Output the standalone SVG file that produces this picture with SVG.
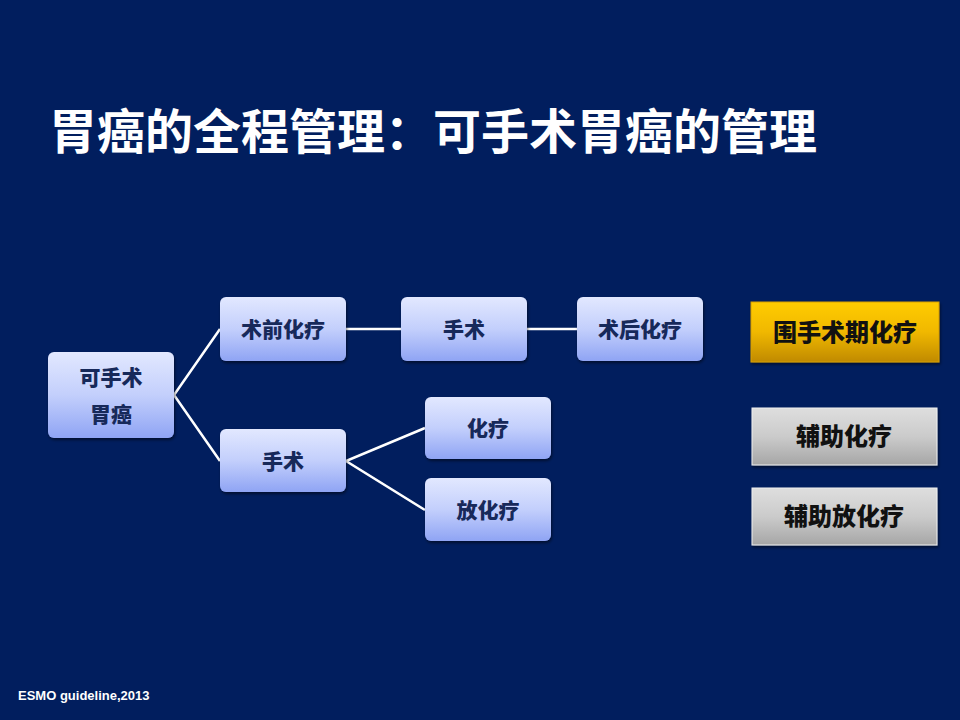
<svg xmlns="http://www.w3.org/2000/svg" width="960" height="720" viewBox="0 0 960 720">
<defs>
<linearGradient id="gBlue" x1="0" y1="0" x2="0" y2="1">
<stop offset="0" stop-color="#e2e8ff"/>
<stop offset="0.5" stop-color="#c3cffc"/>
<stop offset="1" stop-color="#8fa4f4"/>
</linearGradient>
<linearGradient id="gGold" x1="0" y1="0" x2="0" y2="1">
<stop offset="0" stop-color="#ffcc00"/>
<stop offset="0.5" stop-color="#f0b800"/>
<stop offset="1" stop-color="#c08a00"/>
</linearGradient>
<linearGradient id="gGray" x1="0" y1="0" x2="0" y2="1">
<stop offset="0" stop-color="#dedede"/>
<stop offset="0.5" stop-color="#cbcbcb"/>
<stop offset="1" stop-color="#a6a6a6"/>
</linearGradient>
<filter id="sh" x="-10%" y="-10%" width="130%" height="140%">
<feDropShadow dx="1" dy="2" stdDeviation="1.5" flood-color="#000" flood-opacity="0.5"/>
</filter>
</defs>
<style>
.bx{fill:url(#gBlue);filter:url(#sh)}
.bt{font-family:"Noto Sans CJK SC","Noto Sans",sans-serif;font-weight:900;font-size:21px;fill:#17295a;text-anchor:middle}
.rt{font-family:"Noto Sans CJK SC","Noto Sans",sans-serif;font-weight:900;font-size:24px;fill:#111;text-anchor:middle}
.ln{stroke:#fff;stroke-width:2.5;fill:none}
</style>
<rect x="0" y="0" width="960" height="720" fill="#011e5e"/>
<text x="49" y="149" font-family="Noto Sans CJK SC, sans-serif" font-weight="bold" font-size="48" fill="#fff">胃癌的全程管理：可手术胃癌的管理</text>
<g id="connectors">
<polyline class="ln" points="220,329 174,395 220,461"/>
<line class="ln" x1="346" y1="329" x2="401" y2="329"/>
<line class="ln" x1="527" y1="329" x2="577" y2="329"/>
<polyline class="ln" points="425,428 346,461 425,510"/>
</g>
<g id="n-kss">
<rect class="bx" x="48" y="352" width="126" height="86" rx="6"/>
<text class="bt" x="111" y="385">可手术</text>
<text class="bt" x="111" y="422">胃癌</text>
</g>
<g id="n-sqhl">
<rect class="bx" x="220" y="297" width="126" height="64" rx="6"/>
<text class="bt" x="283" y="337">术前化疗</text>
</g>
<g id="n-ss1">
<rect class="bx" x="401" y="297" width="126" height="64" rx="6"/>
<text class="bt" x="464" y="337">手术</text>
</g>
<g id="n-shhl">
<rect class="bx" x="577" y="297" width="126" height="64" rx="6"/>
<text class="bt" x="640" y="337">术后化疗</text>
</g>
<g id="n-ss2">
<rect class="bx" x="220" y="429" width="126" height="63" rx="6"/>
<text class="bt" x="283" y="469">手术</text>
</g>
<g id="n-hl">
<rect class="bx" x="425" y="397" width="126" height="62" rx="6"/>
<text class="bt" x="488" y="436">化疗</text>
</g>
<g id="n-fhl">
<rect class="bx" x="425" y="478" width="126" height="63" rx="6"/>
<text class="bt" x="488" y="518">放化疗</text>
</g>
<g id="n-wss">
<rect x="751" y="302" width="188" height="60" fill="url(#gGold)" stroke="#d9a000" stroke-width="1" filter="url(#sh)"/>
<text class="rt" x="845" y="341">围手术期化疗</text>
</g>
<g id="n-fzhl">
<rect x="752" y="408" width="185" height="57" fill="url(#gGray)" stroke="#f0f0f0" stroke-width="1" filter="url(#sh)"/>
<text class="rt" x="844" y="445">辅助化疗</text>
</g>
<g id="n-fzfhl">
<rect x="752" y="488" width="185" height="57" fill="url(#gGray)" stroke="#f0f0f0" stroke-width="1" filter="url(#sh)"/>
<text class="rt" x="844" y="525">辅助放化疗</text>
</g>
<text x="18" y="700" font-family="Liberation Sans, Arial, sans-serif" font-weight="bold" font-size="13" fill="#fff">ESMO guideline,2013</text>
</svg>
